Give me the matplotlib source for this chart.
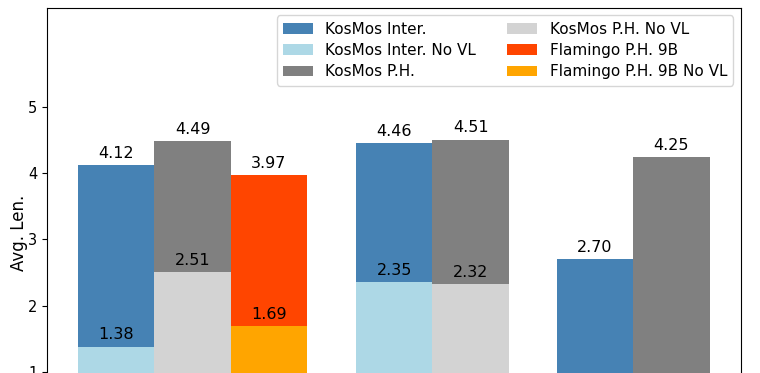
import numpy as np
import matplotlib
matplotlib.use("Agg")
import matplotlib.pyplot as plt

# values (three groups, third one has no Flamingo bar)
inter = [4.12, 4.46, 2.70]
inter_novl = [1.38, 2.35, None]
ph = [4.49, 4.51, 4.25]
ph_novl = [2.51, 2.32, None]
flamingo = [3.97]
flamingo_novl = [1.69]

labels = ["KosMos Inter.", "KosMos Inter. No VL", "KosMos P.H.",
          "KosMos P.H. No VL", "Flamingo P.H. 9B", "Flamingo P.H. 9B No VL"]
colors = ["steelblue", "lightblue", "gray", "lightgray", "orangered", "orange"]

# left edge position of each group (groups are not evenly spaced)
group_x = np.array([0.0, 0.91, 1.567])
w = 0.25

fig = plt.figure(figsize=(7.6, 3.73), dpi=100)
# the axes runs past the bottom of the picture, like the cropped original
ax = fig.add_axes([0.0618, -0.174, 0.913, 1.153])


def draw(xs, full, novl, c_full, c_novl, lab_full, lab_novl):
    b1 = ax.bar(xs, full, w, color=c_full, label=lab_full)
    ax.bar_label(b1, fmt="%.2f", padding=3, fontsize=11.5)
    keep = [i for i, v in enumerate(novl) if v is not None]
    b2 = ax.bar(xs[keep], [novl[i] for i in keep], w, color=c_novl, label=lab_novl)
    ax.bar_label(b2, fmt="%.2f", padding=3, fontsize=11.5)
    return b1, b2


h1, h2 = draw(group_x, inter, inter_novl, colors[0], colors[1], labels[0], labels[1])
h3, h4 = draw(group_x + w, ph, ph_novl, colors[2], colors[3], labels[2], labels[3])
h5, h6 = draw(group_x[:1] + 2 * w, flamingo, flamingo_novl, colors[4], colors[5], labels[4], labels[5])

ax.set_xlim(-0.2264, 2.0445)
ax.set_ylim(0, 6.5)
ax.set_yticks(range(0, 6))
ax.set_xticks([])
ax.tick_params(axis="y", labelsize=10.5)
ax.set_ylabel("Avg. Len.", fontsize=12)
ax.yaxis.set_label_coords(-0.027, 0.477)

ax.legend([h1, h2, h3, h4, h5, h6], labels, ncol=2, loc="upper right",
          fontsize=11, labelspacing=0.42)

plt.savefig("out.png", dpi=100)
